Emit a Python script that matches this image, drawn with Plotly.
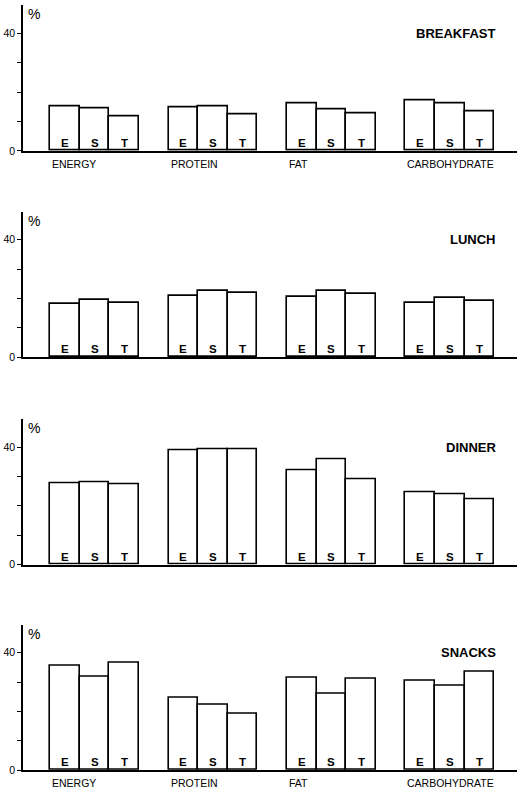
import plotly.graph_objects as go

# Share of daily intake (%) eaten at each meal, for three groups E, S, T
nutrients = ["ENERGY", "PROTEIN", "FAT", "CARBOHYDRATE"]
groups = ["E", "S", "T"]
meals = ["BREAKFAST", "LUNCH", "DINNER", "SNACKS"]

breakfast_E = [15.1, 14.8, 16.0, 17.0]
breakfast_S = [14.5, 15.1, 14.0, 16.2]
breakfast_T = [11.8, 12.4, 12.8, 13.4]

lunch_E = [18.2, 20.9, 20.6, 18.4]
lunch_S = [19.4, 22.5, 22.7, 20.2]
lunch_T = [18.5, 22.0, 21.6, 19.2]

dinner_E = [27.6, 39.1, 32.2, 24.7]
dinner_S = [28.2, 39.4, 36.0, 23.8]
dinner_T = [27.4, 39.3, 29.2, 22.1]

snacks_E = [35.7, 24.8, 31.5, 30.3]
snacks_S = [31.9, 22.3, 26.1, 28.8]
snacks_T = [36.7, 19.1, 31.0, 33.4]

y_tick_vals = [0, 10, 20, 30, 40]
y_tick_text = ["0", "", "", "", "40"]

panel_values = [
    [breakfast_E, breakfast_S, breakfast_T],
    [lunch_E, lunch_S, lunch_T],
    [dinner_E, dinner_S, dinner_T],
    [snacks_E, snacks_S, snacks_T],
]

W, H = 517, 799
AXIS_LEFT_PX = 23
panel_bottom_px = [152, 360, 569, 776]
panel_height_px = 146.5
Y_MAX = 49.5
X_RANGE = [-2.42, 14.27]

group_centers = [0, 4, 8, 12]
bar_offsets = [-1, 0, 1]

FONT = "Liberation Sans, Arial, sans-serif"

fig = go.Figure()
layout = dict(
    width=W, height=H,
    margin=dict(l=0, r=0, t=0, b=0),
    paper_bgcolor="white", plot_bgcolor="white",
    showlegend=False, bargap=0,
    font=dict(family=FONT, color="black"),
)
annotations = []

for p, (meal, series) in enumerate(zip(meals, panel_values)):
    idx = "" if p == 0 else str(p + 1)
    xa, ya = "x" + idx, "y" + idx
    for g, vals in enumerate(series):
        xs = [c + bar_offsets[g] for c in group_centers]
        fig.add_trace(go.Bar(
            x=xs, y=vals, width=1, xaxis=xa, yaxis=ya,
            marker=dict(color="white", line=dict(color="black", width=1.6)),
            name=groups[g], hoverinfo="x+y",
        ))
        for x in xs:
            annotations.append(dict(
                x=x, y=0, xref=xa, yref=ya, text=groups[g], showarrow=False,
                xanchor="center", yanchor="bottom", yshift=0,
                font=dict(family=FONT, size=11.5, color="black", weight="bold"),
            ))

    bottom = panel_bottom_px[p]
    top = bottom - panel_height_px
    y_dom = [1 - bottom / H, 1 - top / H]
    layout["xaxis" + idx] = dict(
        domain=[AXIS_LEFT_PX / W, 1], range=X_RANGE, anchor=ya,
        showline=True, linecolor="black", linewidth=1.6,
        showgrid=False, zeroline=False, showticklabels=False, ticks="",
        fixedrange=True,
    )
    layout["yaxis" + idx] = dict(
        domain=y_dom, range=[0, Y_MAX], anchor=xa,
        showline=True, linecolor="black", linewidth=1.6,
        showgrid=False, zeroline=False,
        tickvals=y_tick_vals, ticktext=y_tick_text,
        ticks="outside", ticklen=4, tickwidth=1.3, tickcolor="black",
        tickfont=dict(family=FONT, size=10.5, color="black"),
        fixedrange=True,
    )

    # unit marker at the top of the y axis
    annotations.append(dict(
        x=0, y=1, xref=xa + " domain", yref=ya + " domain", text="%",
        showarrow=False, xanchor="left", yanchor="top", xshift=3, yshift=1,
        font=dict(family=FONT, size=14, color="black"),
    ))
    # meal name
    annotations.append(dict(
        x=(498 - AXIS_LEFT_PX) / (W - AXIS_LEFT_PX), y=40,
        xref=xa + " domain", yref=ya, text=meal, showarrow=False,
        xanchor="right", yanchor="middle",
        font=dict(family=FONT, size=13, color="black", weight="bold"),
    ))
    # nutrient names under the first and last panels
    if p in (0, len(meals) - 1):
        for c, name in zip(group_centers, nutrients):
            annotations.append(dict(
                x=c - 1.5, y=0, xref=xa, yref=ya, text=name, showarrow=False,
                xanchor="left", yanchor="middle", yshift=-13,
                font=dict(family=FONT, size=10.5, color="black"),
            ))

layout["annotations"] = annotations
fig.update_layout(**layout)
fig.write_html("out.html")
